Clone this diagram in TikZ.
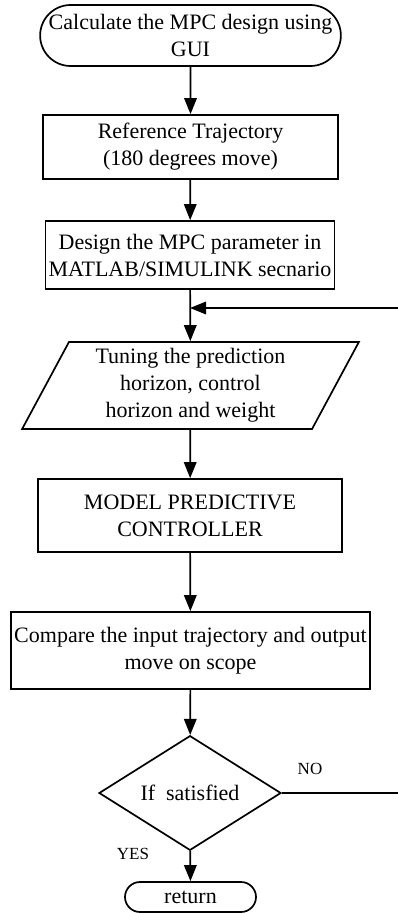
\documentclass[tikz,border=0pt]{standalone}
\usepackage{fontspec}
\setmainfont{Liberation Serif}
\usetikzlibrary{shapes.geometric,shapes.misc,arrows.meta}
\begin{document}
\begin{tikzpicture}[x=1pt,y=-1pt,line width=1.7pt,
    every node/.style={font=\fontsize{22}{27}\selectfont,align=center,inner sep=0pt},
    term/.style={draw,rounded rectangle},
    box/.style={draw,rectangle},
    io/.style={draw,trapezium,trapezium left angle=63.7,trapezium right angle=116.3,
      trapezium stretches=true},
    decide/.style={draw,diamond},
    lbl/.style={font=\fontsize{17}{20}\selectfont},
    arr/.style={-{Triangle[length=16pt,width=12.5pt]}}]

    \useasboundingbox (0,0) rectangle (398,913);

    \node[term,minimum width=295pt,minimum height=61pt] (start) at (190.5,35.5)
      {Calculate the MPC design using\\GUI};
    \node[box,minimum width=295pt,minimum height=64pt] (ref) at (190.5,147)
      {Reference Trajectory\\(180 degrees move)};
    \node[box,minimum width=289pt,minimum height=68pt] (design) at (190,255)
      {Design the MPC parameter in\\MATLAB/SIMULINK secnario};
    \node[io,minimum width=337pt,minimum height=87pt] (tune) at (190.5,385.5)
      {Tuning the prediction\\horizon, control\\horizon and weight};
    \node[box,minimum width=304pt,minimum height=73pt] (mpc) at (190,515.5)
      {MODEL PREDICTIVE\\CONTROLLER};
    \node[box,minimum width=359pt,minimum height=77pt] (cmp) at (190.5,650.5)
      {Compare the input trajectory and output\\move on scope};
    \node[decide,minimum width=182pt,minimum height=88pt] (check) at (190,793)
      {If~~satisfied};
    \node[term,minimum width=131pt,minimum height=30pt] (ret) at (190.5,897) {return};

    \node[lbl] (no) at (310,769) {NO};
    \node[lbl] (yes) at (133,854) {YES};

    \coordinate (join) at (190,308);
    \coordinate (fbin) at (398,308);
    \coordinate (fbout) at (398,793);

    \draw[arr] (start) -- (ref);
    \draw[arr] (ref) -- (design);
    \draw[arr] (design) -- (tune);
    \draw[arr] (tune) -- (mpc);
    \draw[arr] (mpc) -- (cmp);
    \draw[arr] (cmp) -- (check);
    \draw[arr] (check) -- (ret);

    \draw[arr] (fbin) -- (join);
    \draw (check) -- (fbout);

  \end{tikzpicture}
\end{document}
